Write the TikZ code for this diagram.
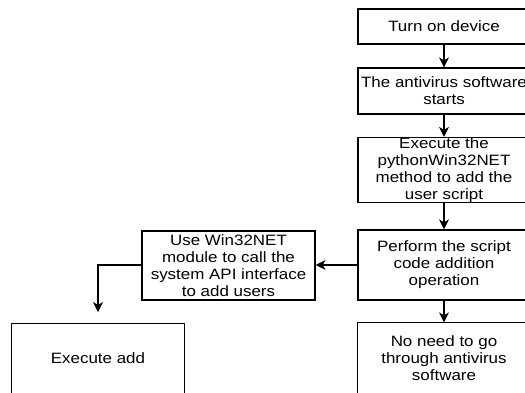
\documentclass[tikz,border=0pt]{standalone}
\usepackage{fontspec}
\setmainfont[FakeStretch=1.13]{Liberation Sans}
\usetikzlibrary{arrows.meta}
\tikzset{
  box/.style={draw=black, line width=1.2pt, rectangle, inner sep=0pt,
    align=center, font=\fontsize{15}{17}\selectfont, text=black},
  frame/.style={draw=black, line width=1.2pt},
  flow/.style={draw=black, line width=1.2pt,
    -{Stealth[length=10pt,width=10pt,inset=3pt]}}
}
\begin{document}
\begin{tikzpicture}[x=1pt,y=-1pt]
  \useasboundingbox (0,0) rectangle (525,392);
  \clip (0,0) rectangle (525,392);
  \fill[white] (0,0) rectangle (525,392);

  % main column
  \node[box, minimum width=172pt, minimum height=35pt] (dev) at (444,26.5) {Turn on device};
  \node[box, minimum width=172pt, minimum height=46pt] (av) at (444,91) {The antivirus software\\starts};
  \node[box, minimum width=172pt, minimum height=64pt] (exe) at (444,170) {Execute the\\pythonWin32NET\\method to add the\\user script};
  \node[box, minimum width=172pt, minimum height=70pt] (perf) at (444,265) {Perform the script\\code addition\\operation};
  \node[box, draw=none, minimum width=172pt, minimum height=70pt] (noneed) at (444,358) {No need to go\\through antivirus\\software};
  \draw[frame] (noneed.north west) rectangle ([yshift=-12pt]noneed.south east);

  % side branch
  \node[box, minimum width=173pt, minimum height=69pt] (api) at (228.5,265.5) {Use Win32NET\\module to call the\\system API interface\\to add users};
  \node[box, draw=none, minimum width=172pt, minimum height=68pt] (add) at (98,358) {Execute add};
  \draw[frame] (add.north west) rectangle ([yshift=-12pt]add.south east);
  \coordinate (addin) at (98,312);

  % connectors
  \draw[flow] (dev) -- (av);
  \draw[flow] (av) -- (exe);
  \draw[flow] (exe) -- (perf);
  \draw[flow] (perf) -- (noneed);
  \draw[flow] (perf.west) -- (api.east |- perf.west);
  \draw[flow] (api.west |- perf.west) -| (addin);
\end{tikzpicture}
\end{document}
